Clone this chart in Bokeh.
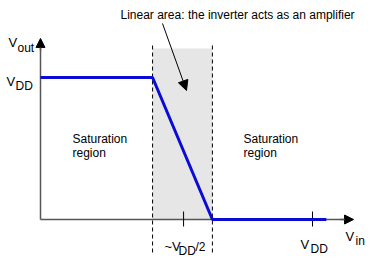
from bokeh.plotting import figure
from bokeh.models import Label, Arrow, NormalHead, Range1d
from bokeh.embed import file_html
from bokeh.resources import INLINE

# ---- data (Vin, Vout normalised to VDD = 1) ----
vin = [0.0, 0.412, 0.632, 1.051]
vout = [1.0, 1.0, 0.0, 0.0]
linear_lo = 0.412
linear_hi = 0.632
linear_top = 1.204
tick_vals = [0.526, 1.0]
axis_x_end = 1.151
axis_y_end = 1.275
title_text = "Linear area: the inverter acts as an amplifier"
region_text = ["Saturation", "region"]

# pixel helpers (layout only)
SX, SY, X0, Y0 = 272.0, 142.0, 40.0, 219.0
def X(px):
    return (px - X0) / SX
def Y(py):
    return (Y0 - py) / SY

W, H = 370, 260
p = figure(width=W, height=H, output_backend="svg", toolbar_location=None,
           x_axis_type=None, y_axis_type=None, min_border=0,
           outline_line_color=None,
           x_range=Range1d(X(0), X(W)), y_range=Range1d(Y(H), Y(0)))
p.xgrid.visible = False
p.ygrid.visible = False
p.background_fill_color = "white"

# grey linear region
p.quad(left=[linear_lo], right=[linear_hi], bottom=[0], top=[linear_top],
       fill_color="#e6e6e6", line_color=None)

# dashed boundaries
p.segment(x0=[linear_lo, linear_hi], y0=[Y(45), Y(45)],
          x1=[linear_lo, linear_hi], y1=[Y(254), Y(254)],
          line_color="black", line_width=1, line_dash="4 3")

# axes with arrows
ax_col = "#555555"
p.segment(x0=[0, 0], y0=[0, 0], x1=[0, X(345)], y1=[Y(46), 0],
          line_color=ax_col, line_width=1.5)
p.add_layout(Arrow(end=NormalHead(size=9, fill_color="black", line_color="black"),
                   x_start=0, y_start=Y(50), x_end=0, y_end=axis_y_end,
                   line_color=ax_col, line_width=1.5))
p.add_layout(Arrow(end=NormalHead(size=9, fill_color="black", line_color="black"),
                   x_start=X(340), y_start=0, x_end=axis_x_end, y_end=0,
                   line_color=ax_col, line_width=1.5))

# ticks
p.segment(x0=tick_vals, y0=[Y(211)] * 2, x1=tick_vals, y1=[Y(226)] * 2,
          line_color="black", line_width=1)

# transfer curve
p.line(vin, vout, line_color="#0b0bd6", line_width=3)

# annotation arrow
p.add_layout(Arrow(end=NormalHead(size=10, fill_color="black", line_color="black"),
                   x_start=X(162), y_start=Y(23), x_end=X(186), y_end=Y(90),
                   line_color="black", line_width=1))

FONT = "Liberation Sans"
def lab(txt, px, py, size=12):
    p.add_layout(Label(x=X(px), y=Y(py), text=txt, text_font=FONT,
                       text_font_size=f"{size}px", text_color="black",
                       text_align="left", text_baseline="alphabetic"))

lab(title_text, 120, 14)
lab("V", 8, 42, 13)
lab("out", 17, 47)
lab("V", 6, 81, 13)
lab("DD", 15, 85)
lab(region_text[0], 72, 138)
lab(region_text[1], 72, 152)
lab(region_text[0], 243, 138)
lab(region_text[1], 243, 152)
lab("~V", 164, 246, 13)
lab("DD", 178, 250)
lab("/2", 195, 246)
lab("V", 300, 244, 13)
lab("DD", 310, 248)
lab("V", 345, 236, 13)
lab("in", 355, 240)

open("out.html", "w").write(file_html(p, INLINE))
